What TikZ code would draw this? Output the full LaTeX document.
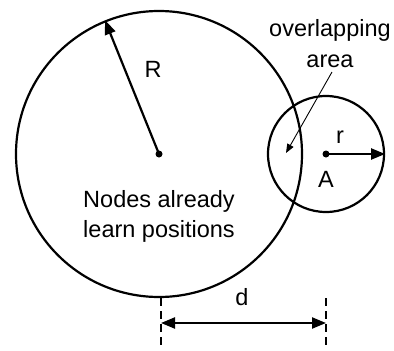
\documentclass[tikz,border=0pt]{standalone}
\usepackage{fontspec}
\setmainfont{Liberation Sans}
\usetikzlibrary{arrows.meta}
\begin{document}
\begin{tikzpicture}[x=1pt,y=-1pt,
  lbl/.style={font=\fontsize{23.5}{28}\selectfont, anchor=base, inner sep=0},
  ring/.style={circle, draw, line width=2.2pt, inner sep=0},
  dot/.style={circle, fill, inner sep=0, minimum size=7pt},
  arr/.style={line width=2.2pt, -{Triangle[length=14pt,width=11pt]}},
  darr/.style={line width=2.2pt, {Triangle[length=14pt,width=11pt]}-{Triangle[length=14pt,width=11pt]}},
  thinarr/.style={line width=0.9pt, -{Triangle[length=9pt,width=7pt]}},
  dashline/.style={line width=2.3pt, dash pattern=on 8pt off 5pt}]
\useasboundingbox (0,0) rectangle (394,351);
\node[ring, minimum size=286pt] (big) at (159,154) {};
\node[ring, minimum size=116pt] (small) at (326,154) {};
\node[dot] (c1) at (159,154) {};
\node[dot] (c2) at (326,154) {};
\draw[arr] (c1.center) -- (big.112.8);
\draw[arr] (c2.center) -- (small.east);
\node[lbl] (R) at (153,77) {R};
\node[lbl] (r) at (340,143) {r};
\node[lbl] (A) at (326,187) {A};
\node[lbl] (t1) at (159,207) {Nodes already};
\node[lbl] (t2) at (159,237) {learn positions};
\node[lbl] (ov) at (330,36) {overlapping};
\node[lbl] (area) at (330,67) {area};
\coordinate (ovpt) at (286,153);
\draw[thinarr] (332,72) -- (ovpt);
\node[lbl] (d) at (242,305) {d};
\coordinate (dl1) at (161,298);
\coordinate (dl2) at (161,348);
\coordinate (dr1) at (326,298);
\coordinate (dr2) at (326,348);
\coordinate (al) at (161,323);
\coordinate (ar) at (326,323);
\draw[dashline] (dl1) -- (dl2);
\draw[dashline] (dr1) -- (dr2);
\draw[darr] (al) -- (ar);
\end{tikzpicture}
\end{document}
